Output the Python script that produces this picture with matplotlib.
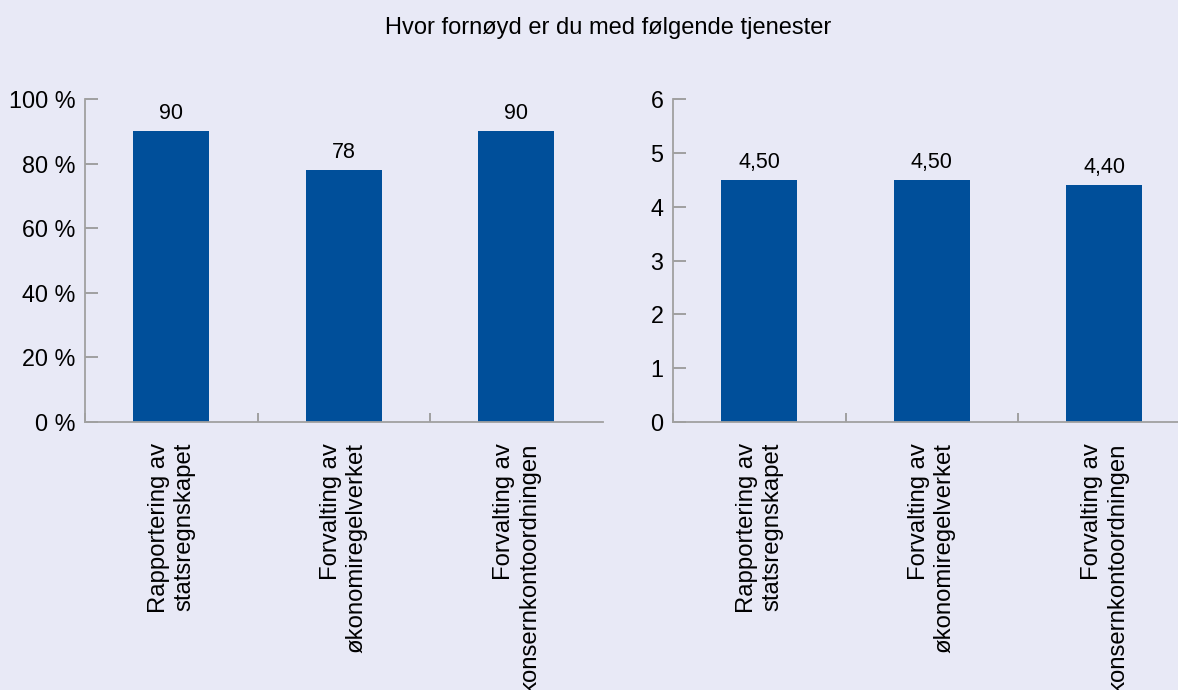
import numpy as np
import matplotlib
matplotlib.use("Agg")
import matplotlib.pyplot as plt
from matplotlib.ticker import FuncFormatter

plt.rcParams['font.family'] = ['Liberation Sans', 'DejaVu Sans']

# data
categories = ["Rapportering av\nstatsregnskapet",
              "Forvalting av\nøkonomiregelverket",
              "Forvalting av\nkonsernkontoordningen"]
andel_fornoyd = [90, 78, 90]          # prosent
snitt_score = [4.50, 4.50, 4.40]      # skala 1-6
title = "Hvor fornøyd er du med følgende tjenester"

bg = "#E8E9F6"
bar_color = "#004F9A"
axis_color = "#A0A0A0"

fig = plt.figure(figsize=(11.78, 6.90), dpi=100, facecolor=bg)
ax1 = fig.add_axes([85 / 1178, 1 - 422 / 690, 517.5 / 1178, 323 / 690])
ax2 = fig.add_axes([673 / 1178, 1 - 422 / 690, 517.5 / 1178, 323 / 690])

x = np.arange(len(categories))


def style_axes(ax, ymax, yticks):
    ax.set_facecolor(bg)
    ax.set_xlim(-0.5, len(categories) - 0.5)
    ax.set_ylim(0, ymax)
    for s in ["top", "right"]:
        ax.spines[s].set_visible(False)
    for s in ["left", "bottom"]:
        ax.spines[s].set_color(axis_color)
        ax.spines[s].set_linewidth(1.3)
    ax.set_yticks(yticks)
    ax.set_xticks(x)
    ax.set_xticklabels(categories, rotation=90, ha="center", va="top",
                       multialignment="right", fontsize=17.2)
    ax.set_xticks(np.arange(-0.5, len(categories) - 0.5), minor=True)
    ax.tick_params(axis="x", which="major", length=0, pad=15)
    ax.tick_params(axis="x", which="minor", direction="in", length=6.5,
                   width=1.4, color=axis_color)
    ax.tick_params(axis="y", direction="in", length=9.5, width=1.4,
                   color=axis_color, labelsize=16.8, pad=7)


# left panel: percent
ax1.bar(x, andel_fornoyd, width=0.44, color=bar_color, zorder=2)
style_axes(ax1, 100, np.arange(0, 101, 20))
ax1.yaxis.set_major_formatter(FuncFormatter(lambda v, p: f"{v:.0f} %"))
for xi, v in zip(x, andel_fornoyd):
    ax1.annotate(f"{v:.0f}", (xi, v), xytext=(0, 5), textcoords="offset points",
                 ha="center", va="bottom", fontsize=15.5)

# right panel: average score
ax2.bar(x, snitt_score, width=0.44, color=bar_color, zorder=2)
style_axes(ax2, 6, np.arange(0, 7, 1))
ax2.yaxis.set_major_formatter(FuncFormatter(lambda v, p: f"{v:.0f}"))
for xi, v in zip(x, snitt_score):
    ax2.annotate(f"{v:.2f}".replace(".", ","), (xi, v), xytext=(0, 5),
                 textcoords="offset points", ha="center", va="bottom",
                 fontsize=15.5)

fig.text(608 / 1178, 1 - 28 / 690, title, ha="center", va="center", fontsize=17)

fig.savefig("out.png", dpi=100, facecolor=bg)
